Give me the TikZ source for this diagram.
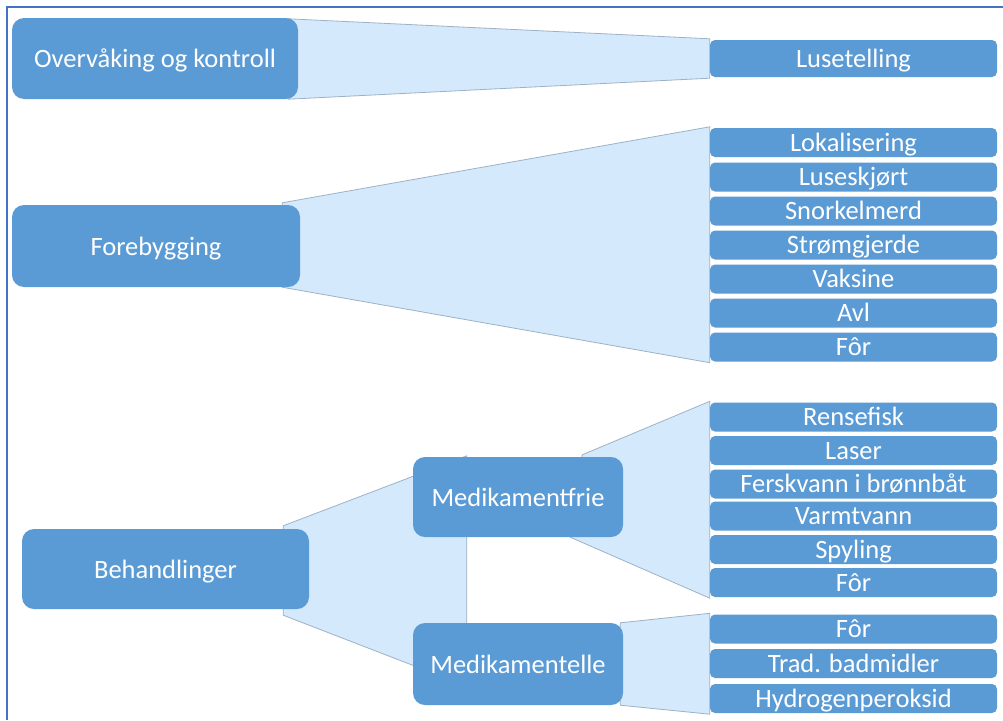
\documentclass[tikz,border=0pt]{standalone}
\usepackage{fontspec}
\setmainfont{Carlito}
\usetikzlibrary{backgrounds,calc}
\definecolor{boxblue}{HTML}{5B9BD5}
\definecolor{funnelfill}{HTML}{D4E9FC}
\definecolor{funneldraw}{HTML}{9DB2C6}
\definecolor{framecol}{HTML}{4472C4}
\tikzset{
  bigbox/.style={draw=none, fill=boxblue, rounded corners=12pt, text=white, inner sep=0pt,
    font=\fontsize{26.5}{30}\selectfont, text height=18pt, text depth=0pt,
    minimum width=#1, minimum height=81pt},
  itembox/.style={draw=none, fill=boxblue, rounded corners=5pt, text=white, inner sep=0pt,
    font=\fontsize{26.5}{30}\selectfont, text height=17.5pt, text depth=0pt,
    minimum width=287pt, minimum height=29pt},
  funnel/.style={fill=funnelfill, draw=funneldraw, line width=0.8pt, line join=round}
}
\begin{document}
\begin{tikzpicture}[x=1pt,y=-1pt]
\useasboundingbox (0,0) rectangle (1003,720);
% main boxes
\node[bigbox=286pt] (ov) at (155,58.5) {Overvåking og kontroll};
\node[bigbox=288pt, minimum height=82pt] (fb) at (156,246) {Forebygging};
\node[bigbox=287pt, minimum height=80pt] (beh) at (165.5,569) {Behandlinger};
\node[bigbox=210pt, minimum height=80pt] (mf) at (518,497) {Medikamentfrie};
\node[bigbox=210pt, minimum height=82pt] (me) at (518,664) {Medikamentelle};
% items
\node[itembox, minimum height=37pt] (lus) at (853.5,58.5) {Lusetelling};
\node[itembox] (a1) at (853.5,142.5) {Lokalisering};
\node[itembox] (a2) at (853.5,177) {Luseskjørt};
\node[itembox] (a3) at (853.5,211) {Snorkelmerd};
\node[itembox] (a4) at (853.5,245) {Strømgjerde};
\node[itembox] (a5) at (853.5,279) {Vaksine};
\node[itembox] (a6) at (853.5,313) {Avl};
\node[itembox] (a7) at (853.5,347) {Fôr};
\node[itembox] (b1) at (853.5,417) {Rensefisk};
\node[itembox] (b2) at (853.5,450.5) {Laser};
\node[itembox] (b3) at (853.5,484) {Ferskvann i brønnbåt};
\node[itembox] (b4) at (853.5,516) {Varmtvann};
\node[itembox] (b5) at (853.5,549.5) {Spyling};
\node[itembox] (b6) at (853.5,582.5) {Fôr};
\node[itembox] (c1) at (853.5,629) {Fôr};
\node[itembox] (c2) at (853.5,663.5) {Trad. badmidler};
\node[itembox] (c3) at (853.5,698.5) {Hydrogenperoksid};
% funnels
\begin{scope}[on background layer]
\fill[white] (0,0) rectangle (1003,720);
\draw[funnel] ($(ov.north east)+(-10,1)$) -- ($(lus.north west)+(0,-1)$) -- ($(lus.south west)+(0,1)$) -- ($(ov.south east)+(-10,0)$) -- cycle;
\draw[funnel] ($(fb.north east)+(-18,-2)$) -- ($(a1.north west)+(0,-1)$) -- ($(a7.south west)+(0,1)$) -- ($(fb.south east)+(-18,0)$) -- cycle;
\draw[funnel] ($(beh.north east)+(-26,-3)$) -- ($(mf.north west)+(54,-1)$) -- ($(me.south west)+(54,-19)$) -- ($(beh.south east)+(-26,6)$) -- cycle;
\draw[funnel] ($(mf.north east)+(-41,-2)$) -- ($(b1.north west)+(0,-1)$) -- ($(b6.south west)+(0,1)$) -- ($(mf.south east)+(-53,0)$) -- cycle;
\draw[funnel] ($(me.north east)+(-3,0)$) -- ($(c1.north west)+(0,-1)$) -- ($(c3.south west)+(0,1)$) -- ($(me.south east)+(-3,0)$) -- cycle;
\end{scope}
% frame
\draw[framecol, line width=2pt] (7,720) -- (7,6.7) -- (1003,6.7);
\end{tikzpicture}
\end{document}
